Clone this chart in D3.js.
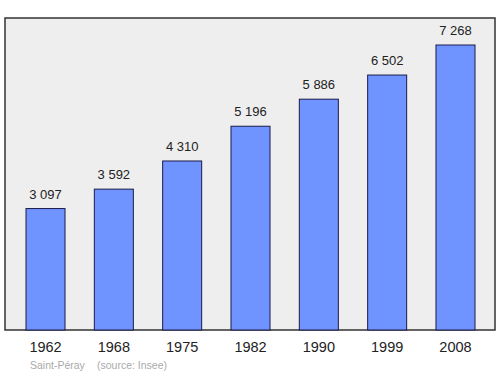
<!DOCTYPE html>
<html><head><meta charset="utf-8">
<script src="https://cdn.jsdelivr.net/npm/d3@7"></script>
<style>body{margin:0;background:#fff}svg{display:block}</style>
</head><body>
<script>
const years = ["1962","1968","1975","1982","1990","1999","2008"];
const population = [3097, 3592, 4310, 5196, 5886, 6502, 7268];
const valueLabels = ["3 097","3 592","4 310","5 196","5 886","6 502","7 268"];
const town = "Saint-Péray";
const source = "(source: Insee)";

const W = 500, H = 374;
const svg = d3.select("body").append("svg").attr("width", W).attr("height", H);
const panel = {x0: 5, x1: 495, y0: 18, y1: 330};

svg.append("rect").attr("x", panel.x0).attr("y", panel.y0)
  .attr("width", panel.x1 - panel.x0).attr("height", panel.y1 - panel.y0)
  .attr("fill", "#eeeeee").attr("stroke", "#333").attr("stroke-width", 1.5);

const x = d3.scaleBand().domain(years).range([26, 475]).paddingInner(0.429).paddingOuter(0);
const y = d3.scaleLinear().domain([0, 7268 * 312 / 285]).range([panel.y1, panel.y0]);

const g = svg.append("g");
g.selectAll("rect.bar").data(population).join("rect").attr("class","bar")
  .attr("x", (d,i) => x(years[i])).attr("width", x.bandwidth())
  .attr("y", d => y(d)).attr("height", d => panel.y1 - y(d))
  .attr("fill", "#7094ff").attr("stroke", "#1a1a4a").attr("stroke-width", 1);

g.selectAll("text.val").data(population).join("text").attr("class","val")
  .attr("x", (d,i) => x(years[i]) + x.bandwidth()/2).attr("y", d => y(d) - 10)
  .attr("text-anchor","middle").attr("font-family","Liberation Sans, Arial, sans-serif")
  .attr("font-size", 13).attr("fill","#222").text((d,i) => valueLabels[i]);

const xAxis = d3.axisBottom(x).tickSize(0).tickPadding(0);
const ax = svg.append("g").attr("transform", `translate(0,${panel.y1})`).call(xAxis);
ax.select(".domain").remove();
ax.selectAll("text").attr("y", 22).attr("dy", 0).attr("font-family","Liberation Sans, Arial, sans-serif")
  .attr("font-size", 14.5).attr("fill","#222");

svg.append("text").attr("x", 30).attr("y", 369).attr("font-family","Liberation Sans, Arial, sans-serif")
  .attr("font-size", 10.5).attr("fill","#aaa").text(town);
svg.append("text").attr("x", 97).attr("y", 369).attr("font-family","Liberation Sans, Arial, sans-serif")
  .attr("font-size", 10.5).attr("fill","#aaa").text(source);
</script>
</body></html>
